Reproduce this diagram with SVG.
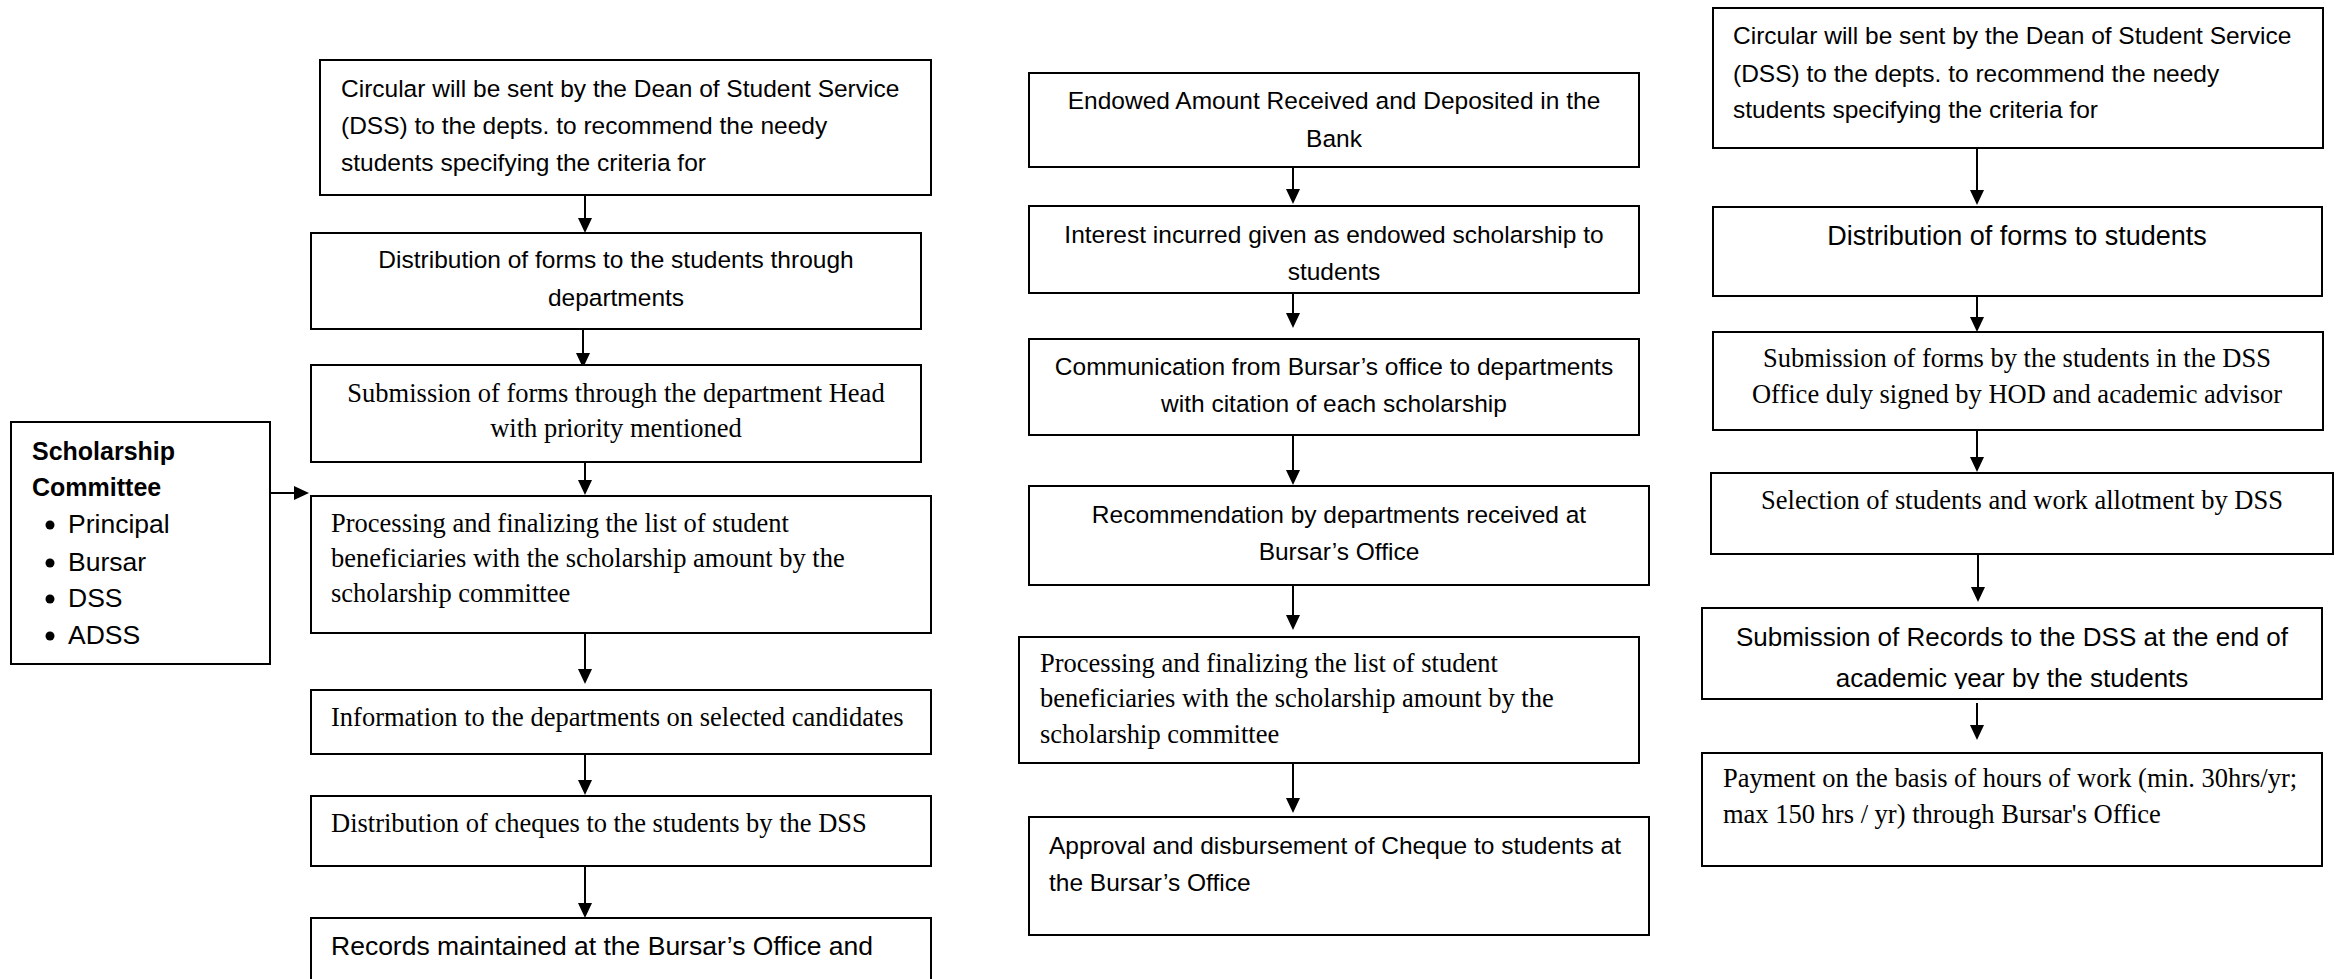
<svg xmlns="http://www.w3.org/2000/svg" width="2336" height="979" viewBox="0 0 2336 979">
<style>
.box{fill:#fff;stroke:#000;stroke-width:2}
.s{font-family:"Liberation Sans",Arial,sans-serif;font-size:24.5px;fill:#000}
.sl{font-family:"Liberation Sans",Arial,sans-serif;font-size:26.5px;fill:#000}
.b{font-family:"Liberation Sans",Arial,sans-serif;font-size:25px;font-weight:bold;fill:#000}
.t{font-family:"Liberation Serif","Times New Roman",serif;font-size:26.5px;fill:#000}
.c{text-anchor:middle}
.con{stroke:#000;stroke-width:2;fill:none;marker-end:url(#ah)}
</style>
<defs>
<marker id="ah" viewBox="0 0 15 14" refX="3" refY="7" markerWidth="15" markerHeight="14" markerUnits="userSpaceOnUse" orient="auto">
<path d="M0,0 L15,7 L0,14 z" fill="#000"/>
</marker>
<clipPath id="clipC5"><rect x="1702" y="608" width="620" height="81"/></clipPath>
</defs>
<rect width="2336" height="979" fill="#fff"/>

<g id="connectors">
<line class="con" x1="585" y1="195" x2="585" y2="221"/>
<line class="con" x1="583" y1="329" x2="583" y2="356"/>
<line class="con" x1="585" y1="462" x2="585" y2="483"/>
<line class="con" x1="585" y1="633" x2="585" y2="672"/>
<line class="con" x1="585" y1="754" x2="585" y2="783"/>
<line class="con" x1="585" y1="866" x2="585" y2="906"/>
<line class="con" x1="270" y1="493" x2="297" y2="493"/>
<line class="con" x1="1293" y1="167" x2="1293" y2="192"/>
<line class="con" x1="1293" y1="293" x2="1293" y2="316"/>
<line class="con" x1="1293" y1="435" x2="1293" y2="473"/>
<line class="con" x1="1293" y1="580" x2="1293" y2="618"/>
<line class="con" x1="1293" y1="763" x2="1293" y2="801"/>
<line class="con" x1="1977" y1="148" x2="1977" y2="193"/>
<line class="con" x1="1977" y1="296" x2="1977" y2="320"/>
<line class="con" x1="1977" y1="423" x2="1977" y2="460"/>
<line class="con" x1="1978" y1="554" x2="1978" y2="590"/>
<line class="con" x1="1977" y1="703" x2="1977" y2="728"/>
</g>

<g id="committee">
<rect class="box" x="11" y="422" width="259" height="242"/>
<text class="b" x="32" y="460">Scholarship</text>
<text class="b" x="32" y="496">Committee</text>
<circle cx="50" cy="525" r="4.5"/>
<text class="sl" x="68" y="533">Principal</text>
<circle cx="50" cy="563" r="4.5"/>
<text class="sl" x="68" y="571">Bursar</text>
<circle cx="50" cy="599" r="4.5"/>
<text class="sl" x="68" y="607">DSS</text>
<circle cx="50" cy="636" r="4.5"/>
<text class="sl" x="68" y="644">ADSS</text>
</g>

<g id="a1">
<rect class="box" x="320" y="60" width="611" height="135"/>
<text class="s" x="341" y="97">Circular will be sent by the Dean of Student Service</text>
<text class="s" x="341" y="134">(DSS) to the depts. to recommend the needy</text>
<text class="s" x="341" y="171">students specifying the criteria for</text>
</g>
<g id="a2">
<rect class="box" x="311" y="233" width="610" height="96"/>
<text class="s c" x="616" y="268">Distribution of forms to the students through</text>
<text class="s c" x="616" y="306">departments</text>
</g>
<g id="a3">
<rect class="box" x="311" y="365" width="610" height="97"/>
<text class="t c" x="616" y="402">Submission of forms through the department Head</text>
<text class="t c" x="616" y="437">with priority mentioned</text>
</g>
<g id="a4">
<rect class="box" x="311" y="496" width="620" height="137"/>
<text class="t" x="331" y="532">Processing and finalizing the list of student</text>
<text class="t" x="331" y="567">beneficiaries with the scholarship amount by the</text>
<text class="t" x="331" y="602">scholarship committee</text>
</g>
<g id="a5">
<rect class="box" x="311" y="690" width="620" height="64"/>
<text class="t" x="331" y="726">Information to the departments on selected candidates</text>
</g>
<g id="a6">
<rect class="box" x="311" y="796" width="620" height="70"/>
<text class="t" x="331" y="832">Distribution of cheques to the students by the DSS</text>
</g>
<g id="a7">
<rect class="box" x="311" y="918" width="620" height="80"/>
<text class="sl" x="331" y="955">Records maintained at the Bursar’s Office and</text>
</g>

<g id="b1">
<rect class="box" x="1029" y="73" width="610" height="94"/>
<text class="s c" x="1334" y="109">Endowed Amount Received and Deposited in the</text>
<text class="s c" x="1334" y="147">Bank</text>
</g>
<g id="b2">
<rect class="box" x="1029" y="206" width="610" height="87"/>
<text class="s c" x="1334" y="243">Interest incurred given as endowed scholarship to</text>
<text class="s c" x="1334" y="280">students</text>
</g>
<g id="b3">
<rect class="box" x="1029" y="339" width="610" height="96"/>
<text class="s c" x="1334" y="375">Communication from Bursar’s office to departments</text>
<text class="s c" x="1334" y="412">with citation of each scholarship</text>
</g>
<g id="b4">
<rect class="box" x="1029" y="486" width="620" height="99"/>
<text class="s c" x="1339" y="523">Recommendation by departments received at</text>
<text class="s c" x="1339" y="560">Bursar’s Office</text>
</g>
<g id="b5">
<rect class="box" x="1019" y="637" width="620" height="126"/>
<text class="t" x="1040" y="672">Processing and finalizing the list of student</text>
<text class="t" x="1040" y="707">beneficiaries with the scholarship amount by the</text>
<text class="t" x="1040" y="743">scholarship committee</text>
</g>
<g id="b6">
<rect class="box" x="1029" y="817" width="620" height="118"/>
<text class="s" x="1049" y="854">Approval and disbursement of Cheque to students at</text>
<text class="s" x="1049" y="891">the Bursar’s Office</text>
</g>

<g id="c1">
<rect class="box" x="1713" y="8" width="610" height="140"/>
<text class="s" x="1733" y="44">Circular will be sent by the Dean of Student Service</text>
<text class="s" x="1733" y="82">(DSS) to the depts. to recommend the needy</text>
<text class="s" x="1733" y="118">students specifying the criteria for</text>
</g>
<g id="c2">
<rect class="box" x="1713" y="207" width="609" height="89"/>
<text class="s c" x="2017" y="245" style="font-size:27px">Distribution of forms to students</text>
</g>
<g id="c3">
<rect class="box" x="1713" y="332" width="610" height="98"/>
<text class="t c" x="2017" y="367">Submission of forms by the students in the DSS</text>
<text class="t c" x="2017" y="403">Office duly signed by HOD and academic advisor</text>
</g>
<g id="c4">
<rect class="box" x="1711" y="473" width="622" height="81"/>
<text class="t c" x="2022" y="509">Selection of students and work allotment by DSS</text>
</g>
<g id="c5">
<rect class="box" x="1702" y="608" width="620" height="91"/>
<g clip-path="url(#clipC5)">
<text class="s c" x="2012" y="646" style="font-size:26px">Submission of Records to the DSS at the end of</text>
<text class="s c" x="2012" y="687" style="font-size:26px">academic year by the students</text>
</g>
</g>
<g id="c6">
<rect class="box" x="1702" y="753" width="620" height="113"/>
<text class="t" x="1723" y="787">Payment on the basis of hours of work (min. 30hrs/yr;</text>
<text class="t" x="1723" y="823">max 150 hrs / yr) through Bursar's Office</text>
</g>
</svg>
